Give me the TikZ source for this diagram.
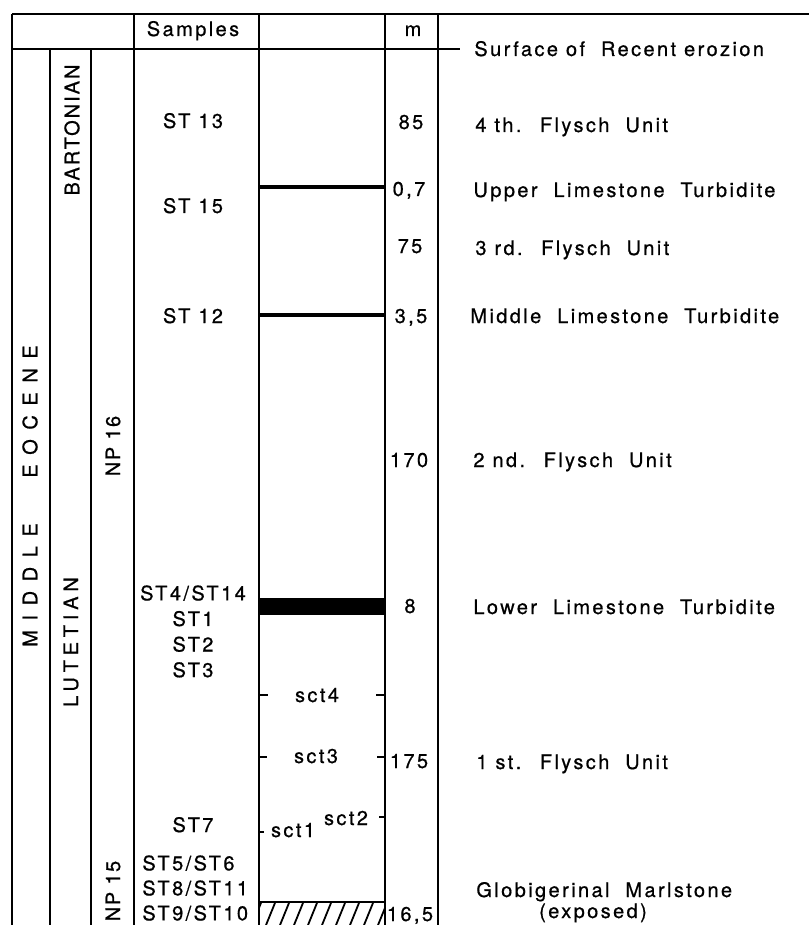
\documentclass[tikz,border=0pt]{standalone}
\usepackage{fontspec}
\setmainfont{TeX Gyre Heros}[LetterSpace=12, FakeBold=0.7]
\usetikzlibrary{positioning}

\begin{document}
\begin{tikzpicture}[
  x=0.5pt, y=-0.5pt,
  every node/.style={inner sep=0pt, font=\fontsize{10}{12.8}\selectfont},
  colrule/.style={line width=1pt},
  smpname/.style={anchor=base},
  thicknum/.style={anchor=base},
  unitname/.style={anchor=base west},
  stagename/.style={rotate=90, anchor=center},
  sctname/.style={anchor=base},
  tickmark/.style={line width=0.9pt},
  hatchline/.style={line width=0.9pt}
]
\useasboundingbox (0,0) rectangle (809,925);

% Frame and columns
\draw[colrule] (12,14) -- (809,14);
\draw[colrule] (12,49) -- (460,49);
\draw[colrule] (12,14) -- (12,925);
\draw[colrule] (50,49) -- (50,925);
\draw[colrule] (91,49) -- (91,925);
\foreach \cx in {134,259,385,438}
  \draw[colrule] (\cx,14) -- (\cx,925);

% Header
\node[smpname] (samples) at (193,36) {Samples};
\node[smpname] (mhead) at (413,36) {m};
\node[unitname] (surface) at (474,56) {Surface of~ Recent erozion};

% Stages and zones
\node[stagename] (eocene) at (30,496) {\addfontfeature{LetterSpace=48}MIDDLE~~~EOCENE};
\node[stagename] (barton) at (72,130) {\addfontfeature{LetterSpace=10}BARTONIAN};
\node[stagename] (lutet) at (71,642) {\addfontfeature{LetterSpace=24}LUTETIAN};
\node[stagename] (np16) at (113,446) {\addfontfeature{LetterSpace=8}NP 16};
\node[stagename] (np15) at (113,891) {\addfontfeature{LetterSpace=8}NP 15};

% Samples
\node[smpname] (st13) at (193,128) {ST 13};
\node[smpname] (st15) at (193,213) {ST 15};
\node[smpname] (st12) at (193,323) {ST 12};
\node[anchor=north, align=center] (st4) at (193,585) {ST4/ST14\\ST1\\ST2\\ST3};
\node[smpname] (st7) at (193,832) {ST7};
\node[anchor=north west, align=left, font=\fontsize{10}{12.5}\selectfont] (st5) at (142,855) {ST5/ST6\\ST8/ST11\\ST9/ST10};

% Limestone beds
\draw[line width=1.7pt] (259,187) -- (385,187);
\draw[line width=2.4pt] (259,315) -- (385,315);
\fill (259,598) rectangle (385,615);
\begin{scope}
  \clip (259,902) rectangle (385,925);
  \foreach \hx in {250,264,...,390}
    \draw[hatchline] (\hx,930) -- (\hx+13,898);
\end{scope}
\draw[colrule] (259,902) -- (385,902);

% Sections
\draw[tickmark] (259,695) -- (268,695);
\draw[tickmark] (376,695) -- (385,695);
\node[sctname] (sct4) at (317,702) {sct4};
\draw[tickmark] (259,757) -- (267,757);
\draw[tickmark] (377,757) -- (385,757);
\node[sctname] (sct3) at (316,763) {sct3};
\draw[tickmark] (259,832) -- (264,832);
\node[sctname] (sct1) at (293,837) {sct1};
\draw[tickmark] (379,817) -- (385,817);
\node[sctname] (sct2) at (346,825) {sct2};

% Thickness
\node[thicknum] (m85) at (411,129) {85};
\node[thicknum] (m07) at (409,196) {0,7};
\node[thicknum] (m75) at (410,253) {75};
\node[thicknum] (m35) at (411,323) {3,5};
\node[thicknum] (m170) at (409,467) {170};
\node[thicknum] (m8) at (410,613) {8};
\node[thicknum] (m175) at (409,768) {175};
\node[thicknum] (m165) at (410,921) {16,5};

% Units
\node[unitname] (u4) at (475,132) {4 th.~ Flysch~ Unit};
\node[unitname] (ult) at (473,197) {Upper~ Limestone~ Turbidite};
\node[unitname] (u3) at (475,255) {3 rd.~ Flysch~ Unit};
\node[unitname] (mlt) at (470,323) {Middle~ Limestone~ Turbidite};
\node[unitname] (u2) at (473,467) {2 nd.~ Flysch~ Unit};
\node[unitname] (llt) at (473,614) {Lower~ Limestone~ Turbidite};
\node[unitname] (u1) at (476,769) {1 st.~ Flysch~ Unit};
\node[unitname] (glob) at (476,897) {Globigerinal~ Marlstone};
\node[anchor=base] (expo) at (593,918) {(exposed)};

\end{tikzpicture}
\end{document}
